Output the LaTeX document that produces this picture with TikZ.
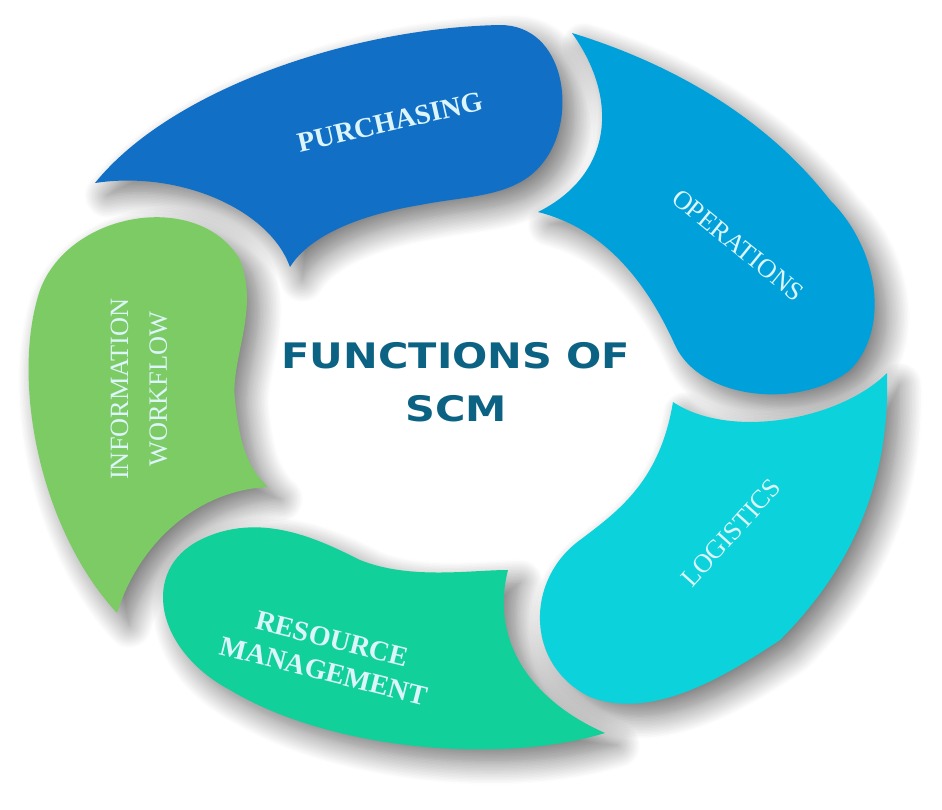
\documentclass[tikz,border=0pt]{standalone}
\usepackage{fontspec}
\setmainfont{Liberation Serif}
\newfontfamily\titlefont{DejaVu Sans}
\usepackage{tikz}
\usetikzlibrary{shadows.blur}
\definecolor{purchblue}{HTML}{1170C6}
\definecolor{operblue}{HTML}{00A0DA}
\definecolor{logcyan}{HTML}{0BD2DB}
\definecolor{resgreen}{HTML}{12D09A}
\definecolor{infogreen}{HTML}{7DCB64}
\definecolor{labeltext}{HTML}{DCF5FA}
\definecolor{titleteal}{HTML}{0B6283}
\def\lbl{\fontsize{15}{22}\selectfont}
\def\blbl{\fontsize{16}{19}\selectfont\bfseries}

\tikzset{
  petal/.style={blur shadow={shadow xshift=7pt, shadow yshift=-7pt, shadow blur radius=13pt, shadow blur steps=16, shadow opacity=55}},
  petaltext/.style={text=labeltext, align=center, inner sep=0pt},
}

\begin{document}
\begin{tikzpicture}[x=0.02cm,y=-0.02cm]
\useasboundingbox (0,0) rectangle (942,809);
% petals
\fill[petal,purchblue] (95,183) .. controls (170,90) and (350,28) .. (500,25)
  .. controls (565,25) and (578,115) .. (545,160) .. controls (518,198) and (470,195) .. (420,205)
  .. controls (360,215) and (310,235) .. (290,267) .. controls (270,210) and (180,170) .. (95,183) -- cycle;
\fill[petal,operblue] (572,33) .. controls (620,100) and (612,175) .. (538,212)
  .. controls (610,230) and (650,290) .. (675,345) .. controls (700,400) and (800,410) .. (850,370)
  .. controls (890,330) and (880,250) .. (830,200) .. controls (760,110) and (660,60) .. (572,33) -- cycle;
\fill[petal,logcyan] (887,373) .. controls (840,420) and (730,440) .. (673,402)
  .. controls (660,480) and (620,510) .. (580,540) .. controls (525,580) and (525,665) .. (590,697)
  .. controls (650,720) and (720,680) .. (780,640) .. controls (860,560) and (890,470) .. (887,373) -- cycle;
\fill[petal,infogreen] (117,613) .. controls (40,530) and (10,380) .. (40,290)
  .. controls (70,210) and (200,190) .. (240,260) .. controls (260,310) and (230,360) .. (235,400)
  .. controls (240,450) and (250,470) .. (268,487) .. controls (200,490) and (140,540) .. (117,613) -- cycle;
\fill[petal,resgreen] (508,570) .. controls (490,640) and (530,700) .. (605,733)
  .. controls (500,765) and (330,750) .. (230,690) .. controls (155,650) and (140,570) .. (200,540)
  .. controls (260,510) and (320,540) .. (360,560) .. controls (410,580) and (470,570) .. (508,570) -- cycle;

% labels
\node[petaltext,rotate=13,font=\blbl] (purch) at (390,122) {PURCHASING};
\node[petaltext,rotate=-39,font=\lbl] (oper) at (738,245) {OPERATIONS};
\node[petaltext,rotate=48,font=\lbl] (logi) at (731,533) {LOGISTICS};
\node[petaltext,rotate=-14,font=\blbl] (reso) at (328,655) {RESOURCE\\MANAGEMENT};
\node[petaltext,rotate=90,font=\lbl] (info) at (139,389) {INFORMATION\\WORKFLOW};

\node[text=titleteal, align=center, xscale=1.18, font=\titlefont\bfseries\fontsize{20}{30}\selectfont] (title) at (456,382) {FUNCTIONS OF\\SCM};
\end{tikzpicture}
\end{document}
